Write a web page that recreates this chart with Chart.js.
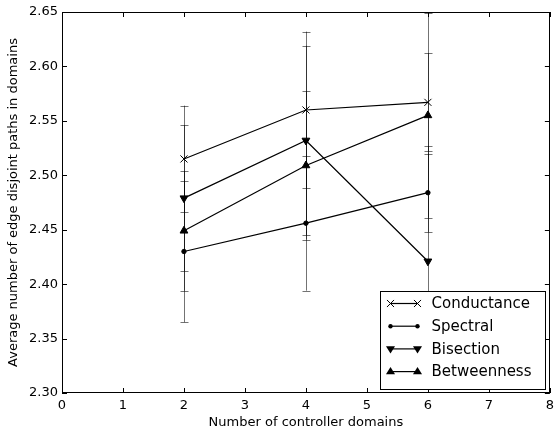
<!DOCTYPE html>
<html lang="en">
<head>
<meta charset="UTF-8">
<title>Edge disjoint paths</title>
<script src="https://cdn.jsdelivr.net/npm/chart.js"></script>
<style>
  html, body { margin: 0; padding: 0; background: #fff; overflow: hidden; }
  #wrap { width: 559px; height: 434px; }
</style>
</head>
<body>
<div id="wrap"><canvas id="chart" width="559" height="434" style="width:559px;height:434px"></canvas></div>
<script>
  // data
  const domains = [2, 4, 6];
  const seriesNames = ['Conductance', 'Spectral', 'Bisection', 'Betweenness'];
  const conductance = [2.515, 2.560, 2.567];
  const conductanceErr = [0.049, 0.072, 0.045];
  const spectral = [2.430, 2.456, 2.484];
  const spectralErr = [0.065, 0.062, 0.036];
  const bisection = [2.479, 2.532, 2.421];
  const bisectionErr = [0.067, 0.087, 0.106];
  const betweenness = [2.449, 2.509, 2.555];
  const betweennessErr = [0.055, 0.068, 0.094];
  const xTicks = [0, 1, 2, 3, 4, 5, 6, 7, 8];
  const yTicks = [2.30, 2.35, 2.40, 2.45, 2.50, 2.55, 2.60, 2.65];

  const FONT = 'DejaVu Sans';
  const markers = [
    { style: 'crossRot', radius: 5, rotation: 0 },
    { style: 'circle', radius: 2.2, rotation: 0 },
    { style: 'triangle', radius: 4.5, rotation: 180 },
    { style: 'triangle', radius: 4.5, rotation: 0 }
  ];
  const values = [conductance, spectral, bisection, betweenness];
  const errors = [conductanceErr, spectralErr, bisectionErr, betweennessErr];

  const datasets = seriesNames.map((name, i) => ({
    label: name,
    data: domains.map((d, j) => ({ x: d, y: values[i][j] })),
    errors: errors[i],
    borderColor: '#000',
    backgroundColor: '#000',
    borderWidth: 1.2,
    pointStyle: markers[i].style,
    pointRadius: markers[i].radius,
    pointRotation: markers[i].rotation,
    pointBorderWidth: 1,
    pointHoverRadius: markers[i].radius,
    fill: false,
    tension: 0
  }));

  // error bars, drawn under the lines
  const errorBars = {
    id: 'errorBars',
    beforeDatasetsDraw(chart) {
      const ctx = chart.ctx;
      const xs = chart.scales.x, ys = chart.scales.y;
      ctx.save();
      ctx.beginPath();
      ctx.rect(chart.chartArea.left, chart.chartArea.top - 1, chart.chartArea.width, chart.chartArea.height + 2);
      ctx.clip();
      ctx.strokeStyle = 'rgba(0,0,0,0.55)';
      ctx.lineWidth = 1;
      chart.data.datasets.forEach(ds => {
        ds.data.forEach((p, j) => {
          const x = Math.round(xs.getPixelForValue(p.x)) + 0.5;
          const y1 = ys.getPixelForValue(p.y + ds.errors[j]);
          const y2 = ys.getPixelForValue(p.y - ds.errors[j]);
          ctx.beginPath();
          ctx.moveTo(x, y1); ctx.lineTo(x, y2);
          ctx.moveTo(x - 4, Math.round(y1) + 0.5); ctx.lineTo(x + 4, Math.round(y1) + 0.5);
          ctx.moveTo(x - 4, Math.round(y2) + 0.5); ctx.lineTo(x + 4, Math.round(y2) + 0.5);
          ctx.stroke();
        });
      });
      ctx.restore();
    }
  };

  function drawMarker(ctx, m, x, y) {
    ctx.save();
    ctx.translate(x, y);
    ctx.rotate(m.rotation * Math.PI / 180);
    ctx.fillStyle = '#000';
    ctx.strokeStyle = '#000';
    ctx.lineWidth = 1;
    const r = m.radius;
    ctx.beginPath();
    if (m.style === 'crossRot') {
      const d = r * Math.SQRT1_2;
      ctx.moveTo(-d, -d); ctx.lineTo(d, d);
      ctx.moveTo(-d, d); ctx.lineTo(d, -d);
      ctx.stroke();
    } else if (m.style === 'circle') {
      ctx.arc(0, 0, r, 0, Math.PI * 2);
      ctx.fill();
    } else {
      ctx.moveTo(0, -r);
      ctx.lineTo(r, r * 0.6);
      ctx.lineTo(-r, r * 0.6);
      ctx.closePath();
      ctx.fill();
    }
    ctx.restore();
  }

  // frame with inward ticks and the legend box
  const frameAndLegend = {
    id: 'frameAndLegend',
    afterDraw(chart) {
      const ctx = chart.ctx;
      const a = chart.chartArea;
      const xs = chart.scales.x, ys = chart.scales.y;
      ctx.save();
      ctx.strokeStyle = '#000';
      ctx.lineWidth = 1;
      ctx.beginPath();
      xTicks.forEach(v => {
        const x = Math.round(xs.getPixelForValue(v)) + 0.5;
        ctx.moveTo(x, a.bottom); ctx.lineTo(x, a.bottom - 5);
        ctx.moveTo(x, a.top); ctx.lineTo(x, a.top + 5);
      });
      yTicks.forEach(v => {
        const y = Math.round(ys.getPixelForValue(v)) + 0.5;
        ctx.moveTo(a.left, y); ctx.lineTo(a.left + 5, y);
        ctx.moveTo(a.right, y); ctx.lineTo(a.right - 5, y);
      });
      ctx.stroke();
      ctx.strokeRect(Math.round(a.left) + 0.5, Math.round(a.top) + 0.5, Math.round(a.width) - 1, Math.round(a.height) - 1);

      // legend
      const lw = 165, lh = 98;
      const lx = Math.round(a.right) - 5 - lw + 0.5;
      const ly = Math.round(a.bottom) - 4 - lh + 0.5;
      ctx.fillStyle = '#fff';
      ctx.fillRect(lx, ly, lw, lh);
      ctx.strokeRect(lx, ly, lw, lh);
      ctx.font = '15px "' + FONT + '"';
      ctx.textBaseline = 'middle';
      seriesNames.forEach((name, i) => {
        const y = ly + 12 + i * 22.7;
        ctx.beginPath();
        ctx.lineWidth = 1.2;
        ctx.moveTo(lx + 10, y); ctx.lineTo(lx + 37, y);
        ctx.stroke();
        drawMarker(ctx, markers[i], lx + 10, y);
        drawMarker(ctx, markers[i], lx + 37, y);
        ctx.fillStyle = '#000';
        ctx.fillText(name, lx + 51, y + 1);
      });
      ctx.restore();
    }
  };

  const ctx = document.getElementById('chart').getContext('2d');
  new Chart(ctx, {
    type: 'line',
    data: { datasets: datasets },
    plugins: [errorBars, frameAndLegend],
    options: {
      responsive: false,
      animation: false,
      layout: { padding: { left: 0, right: 0, top: 12, bottom: 0 } },
      plugins: { legend: { display: false }, tooltip: { enabled: false } },
      scales: {
        x: {
          type: 'linear',
          min: 0, max: 8,
          afterFit(s) { s.height = 41; },
          afterBuildTicks(s) { s.ticks = xTicks.map(v => ({ value: v })); },
          grid: { display: false, drawTicks: false },
          border: { display: false },
          ticks: { color: '#000', font: { family: FONT, size: 13 }, padding: 5, maxRotation: 0 },
          title: { display: true, text: 'Number of controller domains', color: '#000',
                   font: { family: FONT, size: 13 }, padding: { top: 0, bottom: 4 } }
        },
        y: {
          min: 2.30, max: 2.65,
          afterFit(s) { s.width = 62; },
          afterBuildTicks(s) { s.ticks = yTicks.map(v => ({ value: v })); },
          grid: { display: false, drawTicks: false },
          border: { display: false },
          ticks: { color: '#000', font: { family: FONT, size: 13 }, padding: 4,
                   callback: v => v.toFixed(2) },
          title: { display: true, text: 'Average number of edge disjoint paths in domains', color: '#000',
                   font: { family: FONT, size: 13 }, padding: { top: 6, bottom: 0 } }
        }
      }
    }
  });
</script>
</body>
</html>
